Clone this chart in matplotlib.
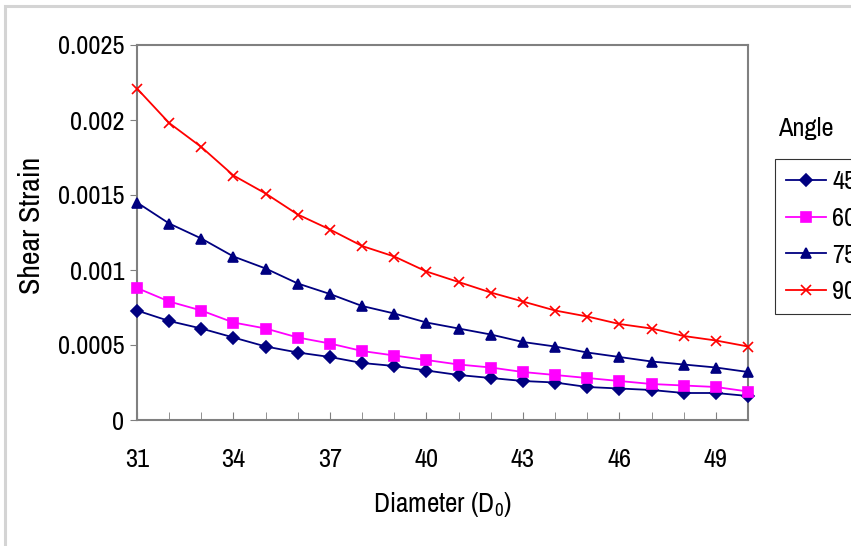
"""
Shear strain vs. diameter for four angles
"""

import matplotlib
matplotlib.use("Agg")
import matplotlib.pyplot as plt
from matplotlib.patches import Rectangle

# Data
diameter = list(range(31, 51))
angles = ["45", "60", "75", "90"]

strain_45 = [0.00073, 0.00066, 0.00061, 0.00055, 0.00049, 0.00045, 0.00042,
             0.00038, 0.00036, 0.00033, 0.00030, 0.00028, 0.00026, 0.00025,
             0.00022, 0.00021, 0.00020, 0.00018, 0.00018, 0.00016]
strain_60 = [0.00088, 0.00079, 0.00073, 0.00065, 0.00061, 0.00055, 0.00051,
             0.00046, 0.00043, 0.00040, 0.00037, 0.00035, 0.00032, 0.00030,
             0.00028, 0.00026, 0.00024, 0.00023, 0.00022, 0.00019]
strain_75 = [0.00145, 0.00131, 0.00121, 0.00109, 0.00101, 0.00091, 0.00084,
             0.00076, 0.00071, 0.00065, 0.00061, 0.00057, 0.00052, 0.00049,
             0.00045, 0.00042, 0.00039, 0.00037, 0.00035, 0.00032]
strain_90 = [0.00221, 0.00198, 0.00182, 0.00163, 0.00151, 0.00137, 0.00127,
             0.00116, 0.00109, 0.00099, 0.00092, 0.00085, 0.00079, 0.00073,
             0.00069, 0.00064, 0.00061, 0.00056, 0.00053, 0.00049]

x_ticks = [31, 34, 37, 40, 43, 46, 49]
y_ticks = [0, 0.0005, 0.001, 0.0015, 0.002, 0.0025]
y_tick_labels = ["0", "0.0005", "0.001", "0.0015", "0.002", "0.0025"]

# condensed font, like the squeezed Excel labels
plt.rcParams["font.family"] = ["Liberation Sans Narrow", "Archivo Narrow",
                               "Liberation Sans", "DejaVu Sans"]
plt.rcParams["mathtext.fontset"] = "custom"
plt.rcParams["mathtext.rm"] = "Archivo Narrow"
FS = 19

fig = plt.figure(figsize=(8.51, 5.46), dpi=100)

# light grey chart-area border (right/bottom run off the picture)
fig.patches.append(Rectangle((5 / 851, -0.05), 1.1, 1 - 6 / 546 + 0.05,
                             transform=fig.transFigure, fill=False,
                             edgecolor="#d4d4d4", linewidth=2.2))

ax = fig.add_axes([137 / 851, 1 - 420 / 546, 611 / 851, 375 / 546])

series = [
    (strain_45, "#000080", "D", 6),
    (strain_60, "#ff00ff", "s", 6.5),
    (strain_75, "#000080", "^", 7.5),
    (strain_90, "#ff0000", "x", 7),
]
for (values, color, marker, msize), label in zip(series, angles):
    ax.plot(diameter, values, color=color, marker=marker, markersize=msize,
            markeredgewidth=1.2, linewidth=1.3, label=label, clip_on=False,
            zorder=3)

ax.set_xlim(31, 50)
ax.set_ylim(0, 0.0025)
ax.set_xticks(x_ticks)
ax.set_xticks(diameter, minor=True)
ax.set_yticks(y_ticks)
ax.set_yticklabels(y_tick_labels)

for side in ["left", "bottom", "top", "right"]:
    ax.spines[side].set_color("#808080")
    ax.spines[side].set_linewidth(1.5)

ax.tick_params(axis="x", which="both", direction="in", length=6,
               color="#808080", labelsize=FS, pad=20)
ax.tick_params(axis="y", direction="out", length=5, color="#808080",
               labelsize=FS, pad=4)

ax.set_xlabel("Diameter (D$_0$)", fontsize=19.5, labelpad=14)
ax.set_ylabel("Shear Strain", fontsize=21.5)
ax.yaxis.set_label_coords(-0.151, 0.52)

# legend on the right, cut off by the picture edge as in the original
fig.text(778 / 851, 1 - 128 / 546, "Angle", fontsize=FS, va="center", ha="left")
leg = fig.legend(loc="upper left", bbox_to_anchor=(775 / 851, 1 - 159 / 546),
                 fontsize=FS, frameon=True, fancybox=False, borderaxespad=0,
                 handlelength=1.5, handletextpad=0.25, labelspacing=0.52,
                 borderpad=0.42)
leg.get_frame().set_edgecolor("#000000")
leg.get_frame().set_linewidth(0.8)

plt.savefig("out.png", dpi=100)
plt.close()
